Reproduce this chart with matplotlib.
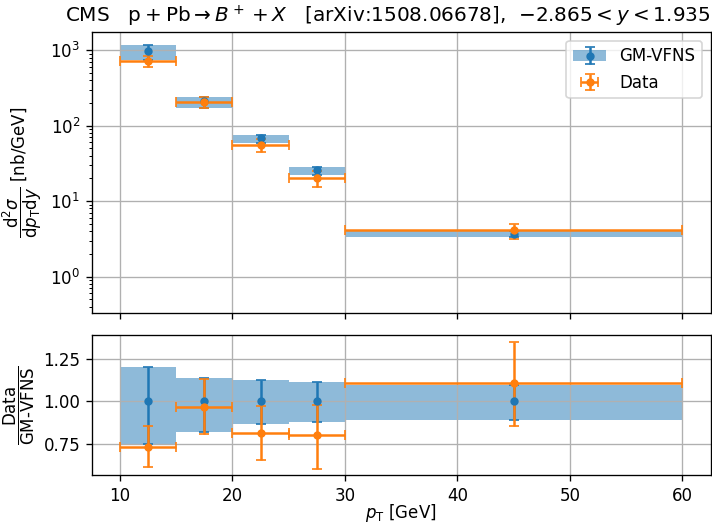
import numpy as np
import matplotlib.pyplot as plt

# bins in pT [GeV]
edges = np.array([10, 15, 20, 25, 30, 60])
centers = np.array([12.5, 17.5, 22.5, 27.5, 45.0])

# GM-VFNS prediction [nb/GeV] and relative uncertainties
theory = np.array([980.0, 211.0, 67.7, 25.6, 3.73])
th_up = np.array([0.20, 0.14, 0.124, 0.115, 0.096])
th_dn = np.array([0.25, 0.18, 0.134, 0.124, 0.11])

# CMS data as ratio to theory, with errors on that ratio
ratio = np.array([0.733, 0.968, 0.812, 0.80, 1.106])
ratio_up = np.array([0.122, 0.163, 0.160, 0.176, 0.244])
ratio_dn = np.array([0.121, 0.160, 0.157, 0.196, 0.251])

data = ratio * theory
xerr = np.array([centers - edges[:-1], edges[1:] - centers])

fig, (ax1, ax2) = plt.subplots(2, 1, sharex=True, figsize=(712 / 120, 524 / 120), dpi=120,
                               gridspec_kw={'height_ratios': [2, 1]})
fig.subplots_adjust(left=0.129, right=0.998, top=0.938, bottom=0.093, hspace=0.106)

def step(v):
    return np.append(v, v[-1])

# top panel
band = ax1.fill_between(edges, step(theory * (1 - th_dn)), step(theory * (1 + th_up)),
                        step='post', color='C0', alpha=0.5, lw=0)
eb1 = ax1.errorbar(centers, theory, yerr=[theory * th_dn, theory * th_up],
                   fmt='o', ms=4, color='C0', capsize=3)
eb2 = ax1.errorbar(centers, data, xerr=xerr, yerr=[ratio_dn * theory, ratio_up * theory],
                   fmt='o', ms=4, color='C1', capsize=3)
ax1.set_yscale('log')
ax1.set_ylim(0.332, 1716)
ax1.grid(True)
ax1.set_ylabel(r'$\dfrac{\mathrm{d}^2\sigma}{\mathrm{d}p_\mathrm{T}\mathrm{d}y}$ [nb/GeV]')
ax1.legend([(band, eb1), eb2], ['GM-VFNS', 'Data'], loc='upper right')
ax1.set_title(r'CMS   $\mathrm{p+Pb} \rightarrow B^+ + X$   [arXiv:1508.06678],  '
              r'$-2.865 < y < 1.935$', loc='right')

# ratio panel
ones = np.ones_like(theory)
ax2.fill_between(edges, step(1 - th_dn), step(1 + th_up), step='post',
                 color='C0', alpha=0.5, lw=0)
ax2.errorbar(centers, ones, yerr=[th_dn, th_up], fmt='o', ms=4, color='C0', capsize=3)
ax2.errorbar(centers, ratio, xerr=xerr, yerr=[ratio_dn, ratio_up],
             fmt='o', ms=4, color='C1', capsize=3)
ax2.set_ylim(0.565, 1.39)
ax2.set_yticks([0.75, 1.0, 1.25])
ax2.set_yticklabels(['0.75', '1.00', '1.25'])
ax2.grid(True)
ax2.set_xlim(7.5, 62.5)
ax2.set_ylabel(r'$\dfrac{\mathrm{Data}}{\mathrm{GM\text{-}VFNS}}$')
ax2.set_xlabel(r'$p_\mathrm{T}$ [GeV]', labelpad=-1.5)

fig.savefig('out.png')
